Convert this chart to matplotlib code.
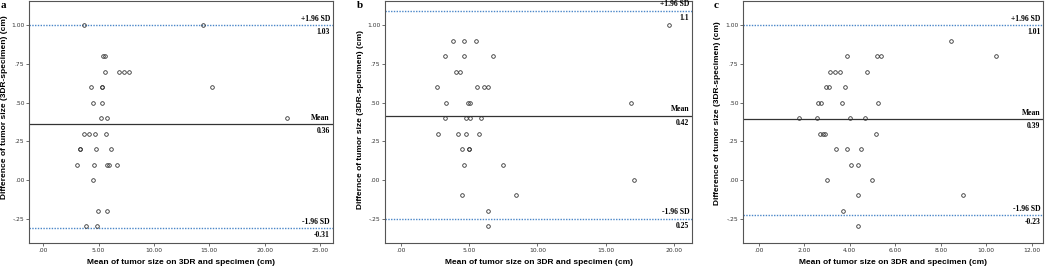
import matplotlib
matplotlib.use('Agg')
import matplotlib.pyplot as plt

# panel a
a_x = [3.68, 14.43, 5.36, 5.54, 5.54, 6.81, 7.29, 7.77, 4.34, 5.27, 5.27, 15.2,
       4.46, 5.27, 5.18, 5.72, 22.05, 3.68, 4.16, 4.64, 5.63, 3.35, 3.35, 4.79,
       6.11, 3.07, 4.58, 5.72, 5.9, 6.69, 4.49, 4.91, 5.72, 3.89, 4.82]
a_y = [1.0, 1.0, 0.8, 0.8, 0.7, 0.7, 0.7, 0.7, 0.6, 0.6, 0.6, 0.6,
       0.5, 0.5, 0.4, 0.4, 0.4, 0.3, 0.3, 0.3, 0.3, 0.2, 0.2, 0.2,
       0.2, 0.1, 0.1, 0.1, 0.1, 0.1, 0.0, -0.2, -0.2, -0.3, -0.3]
a_lines = [1.0, 0.36, -0.3125]
a_vals = ['1.03', '0.36', '-0.31']
a_xticks = [0, 5, 10, 15, 20, 25]

# panel b
b_x = [19.61, 3.80, 4.63, 5.51, 3.24, 4.65, 6.78, 4.05, 4.34, 2.66, 5.56, 6.09,
       6.39, 3.29, 4.95, 5.05, 16.86, 3.27, 4.76, 5.07, 5.87, 2.71, 4.19, 4.80,
       5.71, 4.46, 4.97, 4.97, 4.61, 7.51, 17.09, 4.51, 8.41, 6.36, 6.41]
b_y = [1.0, 0.9, 0.9, 0.9, 0.8, 0.8, 0.8, 0.7, 0.7, 0.6, 0.6, 0.6,
       0.6, 0.5, 0.5, 0.5, 0.5, 0.4, 0.4, 0.4, 0.4, 0.3, 0.3, 0.3,
       0.3, 0.2, 0.2, 0.2, 0.1, 0.1, 0.0, -0.1, -0.1, -0.2, -0.3]
b_lines = [1.095, 0.416, -0.25]
b_vals = ['1.1', '0.42', '0.25']
b_xticks = [0, 5, 10, 15, 20]

# panel c
c_x = [8.47, 3.90, 5.21, 5.39, 10.42, 3.13, 3.35, 3.57, 4.75, 2.97, 3.08, 3.79,
       2.62, 2.74, 3.65, 5.26, 1.77, 2.58, 4.0, 4.69, 2.67, 2.84, 2.93, 5.14,
       3.40, 3.90, 4.51, 4.04, 4.35, 2.99, 4.99, 4.35, 8.97, 3.69, 4.35]
c_y = [0.9, 0.8, 0.8, 0.8, 0.8, 0.7, 0.7, 0.7, 0.7, 0.6, 0.6, 0.6,
       0.5, 0.5, 0.5, 0.5, 0.4, 0.4, 0.4, 0.4, 0.3, 0.3, 0.3, 0.3,
       0.2, 0.2, 0.2, 0.1, 0.1, 0.0, 0.0, -0.1, -0.1, -0.2, -0.3]
c_lines = [1.0, 0.392, -0.228]
c_vals = ['1.01', '0.39', '-0.23']
c_xticks = [0, 2, 4, 6, 8, 10, 12]

y_ticks = [-0.25, 0, 0.25, 0.5, 0.75, 1.0]
y_ticklabels = ['-.25', '.00', '.25', '.50', '.75', '1.00']
xlabel = 'Mean of tumor size on 3DR and specimen (cm)'
ylabel_a = 'Difference of tumor size (3DR-specimen) (cm)'
ylabel_b = 'Differnce of tumor size (3DR-specimen) (cm)'


def fmt_x(v):
    s = '%.2f' % v
    return s[1:] if v == 0 else s


def panel(ax, x, y, lines, vals, xticks, xlim, ylabel, ylab_pos, letter):
    ax.plot(x, y, 'o', ms=2.6, mfc='none', mec='#333333', mew=0.6, zorder=3)
    ax.axhline(lines[0], color='#4a86c8', lw=1.0, ls=(0, (1, 1)))
    ax.axhline(lines[1], color='#333333', lw=0.9)
    ax.axhline(lines[2], color='#4a86c8', lw=1.0, ls=(0, (1, 1)))
    ax.set_xlim(xlim)
    ax.set_ylim(-0.407, 1.157)
    ax.set_xticks(xticks)
    ax.set_xticklabels([fmt_x(v) for v in xticks])
    ax.set_yticks(y_ticks)
    ax.set_yticklabels(y_ticklabels)
    ax.tick_params(labelsize=4.3, length=2, width=0.5, pad=1.5, colors='#333333')
    for s in ax.spines.values():
        s.set_color('#555555')
        s.set_linewidth(0.8)
    ax.set_xlabel(xlabel, fontsize=6, fontweight='bold', family='Liberation Sans', va='center')
    ax.xaxis.set_label_coords(0.5, -0.082)
    ax.set_ylabel(ylabel, fontsize=6, fontweight='bold', family='Liberation Sans', va='center')
    ax.yaxis.set_label_coords(ylab_pos[0], ylab_pos[1])
    tkw = dict(fontsize=5.5, fontweight='bold', family='Liberation Serif', ha='right',
               va='center', xycoords=('axes fraction', 'data'), textcoords='offset points')
    ax.annotate('+1.96 SD', (0.99, lines[0]), xytext=(0, 4.5), **tkw)
    ax.annotate(vals[0], (0.99, lines[0]), xytext=(0, -5), **tkw)
    ax.annotate('Mean', (0.99, lines[1]), xytext=(0, 4.5), **tkw)
    ax.annotate(vals[1], (0.99, lines[1]), xytext=(0, -5), **tkw)
    ax.annotate('-1.96 SD', (0.99, lines[2]), xytext=(0, 4.5), **tkw)
    ax.annotate(vals[2], (0.99, lines[2]), xytext=(0, -5), **tkw)
    ax.figure.text(letter[1], 0.995, letter[0], fontsize=8, fontweight='bold',
                   family='Liberation Serif', ha='left', va='top')


fig = plt.figure(figsize=(10.49, 2.68), dpi=100)
ax1 = fig.add_axes([0.0279, 0.0933, 0.2895, 0.903])
ax2 = fig.add_axes([0.367, 0.0933, 0.293, 0.903])
ax3 = fig.add_axes([0.7086, 0.0933, 0.286, 0.903])

panel(ax1, a_x, a_y, a_lines, a_vals, a_xticks, (-1.26, 26.17), ylabel_a, (-0.083, 0.56), ('a', 0.001))
panel(ax2, b_x, b_y, b_lines, b_vals, b_xticks, (-1.15, 21.33), ylabel_b, (-0.079, 0.509), ('b', 0.340))
panel(ax3, c_x, c_y, c_lines, c_vals, c_xticks, (-0.68, 12.51), ylabel_a, (-0.087, 0.538), ('c', 0.680))

fig.savefig('out.png', dpi=100)
